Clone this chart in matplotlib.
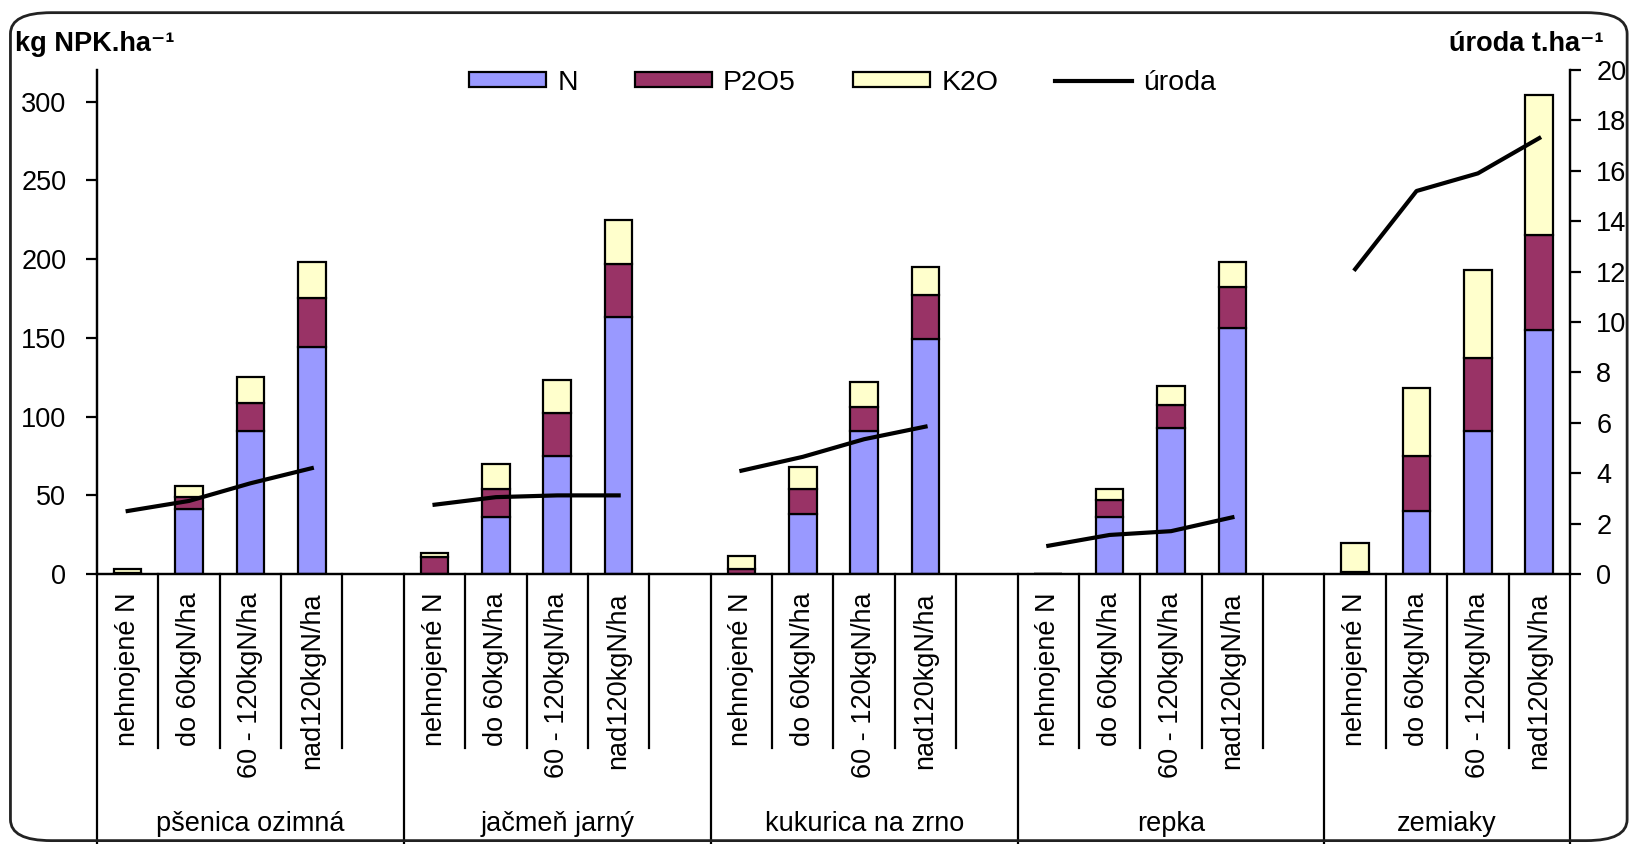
import numpy as np
import matplotlib
matplotlib.use("Agg")
import matplotlib.pyplot as plt
from matplotlib.patches import FancyBboxPatch

plt.rcParams['font.family'] = ['Liberation Sans', 'DejaVu Sans']

crops = ['pšenica ozimná', 'jačmeň jarný', 'kukurica na zrno', 'repka', 'zemiaky']
levels = ['nehnojené N', 'do 60kgN/ha', '60 - 120kgN/ha', 'nad120kgN/ha']

# kg/ha, 4 levels per crop
N = [0, 41, 91, 144,
     0, 36, 75, 163,
     0, 38, 91, 149,
     0, 36, 93, 156,
     0, 40, 91, 155]
P2O5 = [0.5, 8, 17.5, 31,
        10.5, 18, 27, 34,
        3, 16, 15, 28,
        0, 11, 14, 26,
        1, 35, 46, 60]
K2O = [2.5, 7, 16.5, 23,
       3, 16, 21, 28,
       8.5, 14, 16, 18,
       0, 7, 12.5, 16,
       19, 43, 56, 89]
# t/ha
uroda = [2.5, 2.9, 3.6, 4.2,
         2.75, 3.05, 3.12, 3.12,
         4.1, 4.65, 5.35, 5.85,
         1.12, 1.55, 1.7, 2.25,
         12.1, 15.2, 15.9, 17.3]

N = np.array(N, float)
P2O5 = np.array(P2O5, float)
K2O = np.array(K2O, float)
uroda = np.array(uroda, float)

# every crop takes 5 slots (4 bars + empty one), last crop only 4
pos = np.array([g * 5 + j for g in range(len(crops)) for j in range(len(levels))])
nslots = 5 * len(crops) - 1

fs = 19.5
fig = plt.figure(figsize=(16.33, 8.44), dpi=100)
ax = fig.add_axes([0.0594, 0.3199, 0.902, 0.5971])
ax2 = ax.twinx()

w = 0.45
ec = dict(edgecolor='black', linewidth=1.6)
b1 = ax.bar(pos, N, w, color='#9999FF', label='N', **ec)
b2 = ax.bar(pos, P2O5, w, bottom=N, color='#993366', label='P2O5', **ec)
b3 = ax.bar(pos, K2O, w, bottom=N + P2O5, color='#FFFFCC', label='K2O', **ec)

line = None
for g in range(len(crops)):
    sl = slice(g * 4, g * 4 + 4)
    line, = ax2.plot(pos[sl], uroda[sl], color='black', lw=3, label='úroda')

ax.set_xlim(-0.5, nslots - 0.5)
ax.set_ylim(0, 320)
ax2.set_ylim(0, 20)
ax.set_yticks([0, 50, 100, 150, 200, 250, 300])
ax2.set_yticks(np.arange(0, 21, 2))

for a in (ax, ax2):
    a.spines['top'].set_visible(False)
    a.spines['left'].set_linewidth(1.6)
    a.spines['right'].set_linewidth(1.6)
    a.spines['bottom'].set_linewidth(1.6)
ax.tick_params(axis='y', direction='out', length=8, width=1.6, pad=14, labelsize=fs)
ax2.tick_params(axis='y', direction='out', length=8, width=1.6, pad=11, labelsize=fs)

ax.set_xticks(pos, [levels[j] for g in range(len(crops)) for j in range(len(levels))],
              rotation=90, fontsize=fs)
ax.tick_params(axis='x', length=0, pad=13)

# category separators below the axis
tr = ax.get_xaxis_transform()
for k in range(nslots + 1):
    x = k - 0.5
    full = (k % 5 == 0) or k == nslots
    ax.plot([x, x], [0, -0.54 if full else -0.345], transform=tr, color='black',
            lw=1.6, clip_on=False)

for g, name in enumerate(crops):
    n = 5 if g < len(crops) - 1 else 4
    ax.text(g * 5 + (n - 1) / 2, -0.496, name, transform=tr, ha='center', va='center',
            fontsize=fs)

fig.text(0.009, 0.948, 'kg NPK.ha⁻¹', fontsize=fs, fontweight='bold',
         ha='left', va='center')
fig.text(0.982, 0.948, 'úroda t.ha⁻¹', fontsize=fs, fontweight='bold',
         ha='right', va='center')

fig.legend([b1, b2, b3, line], ['N', 'P2O5', 'K2O', 'úroda'], loc='center',
           bbox_to_anchor=(0.516, 0.902), ncol=4, frameon=False, fontsize=20.5,
           handlelength=2.7, handleheight=0.45, handletextpad=0.4, columnspacing=2.0)

fig.patches.append(FancyBboxPatch((0.0064, 0.004), 0.99, 0.981,
                                  boxstyle='round,pad=0,rounding_size=0.025',
                                  transform=fig.transFigure, fill=False, lw=2,
                                  edgecolor='#222222'))

fig.savefig('out.png', dpi=100)
